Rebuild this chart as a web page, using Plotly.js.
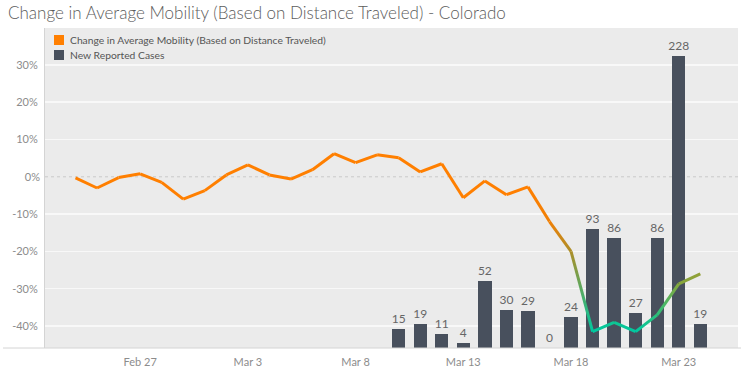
<!DOCTYPE html>
<html>
<head>
<meta charset="utf-8">
<script src="https://cdn.plot.ly/plotly-3.0.1.min.js"></script>
<style>
  html, body { margin: 0; padding: 0; background: #ffffff; }
  #chart { width: 746px; height: 368px; }
</style>
</head>
<body>
<div id="chart"></div>
<script>
// ---------------- data ----------------
const mobilityDates = [
  '2020-02-24','2020-02-25','2020-02-26','2020-02-27','2020-02-28','2020-02-29',
  '2020-03-01','2020-03-02','2020-03-03','2020-03-04','2020-03-05','2020-03-06',
  '2020-03-07','2020-03-08','2020-03-09','2020-03-10','2020-03-11','2020-03-12',
  '2020-03-13','2020-03-14','2020-03-15','2020-03-16','2020-03-17','2020-03-18',
  '2020-03-19','2020-03-20','2020-03-21','2020-03-22','2020-03-23','2020-03-24'
];
const mobilityChange = [
  -0.3, -3.0, -0.2, 0.8, -1.5, -6.0,
  -3.7, 0.5, 3.2, 0.5, -0.6, 1.9,
  6.2, 3.8, 5.9, 5.1, 1.3, 3.5,
  -5.6, -1.1, -4.8, -2.7, -12.0, -20.0,
  -41.5, -39.0, -41.5, -37.0, -28.7, -26.0
];
const caseDates = [
  '2020-03-10','2020-03-11','2020-03-12','2020-03-13','2020-03-14','2020-03-15',
  '2020-03-16','2020-03-17','2020-03-18','2020-03-19','2020-03-20','2020-03-21',
  '2020-03-22','2020-03-23','2020-03-24'
];
const newCases = [15, 19, 11, 4, 52, 30, 29, 0, 24, 93, 86, 27, 86, 228, 19];

const pctTickVals = [-40, -30, -20, -10, 10, 20, 30];
const pctTickText = ['-40%', '-30%', '-20%', '-10%', '10%', '20%', '30%'];
const zeroTickVals = [0];
const zeroTickText = ['0%'];

const titleText = 'Change in Average Mobility (Based on Distance Traveled) - Colorado';
const legendNames = ['Change in Average Mobility (Based on Distance Traveled)', 'New Reported Cases'];

// ---------------- styling ----------------
const FONT = 'Lato, "Noto Sans", sans-serif';
const ORANGE = '#ff7f00';
const BAR = '#48505d';
const W = 746, H = 368;
const M = { l: 45, r: 8, t: 28, b: 20 };
const PW = W - M.l - M.r, PH = H - M.t - M.b;
const px = x => (x - M.l) / PW;
const py = y => (H - M.b - y) / PH;

// value -> colour (diverging orange -> olive -> teal)
const colorStops = [
  [-8, [255, 127, 0]],
  [-13, [236, 128, 8]],
  [-20, [172, 142, 40]],
  [-26, [146, 160, 56]],
  [-30, [128, 170, 62]],
  [-35, [72, 186, 96]],
  [-40, [0, 200, 160]]
];
function colorFor(v) {
  if (v >= colorStops[0][0]) return 'rgb(' + colorStops[0][1].join(',') + ')';
  for (let i = 1; i < colorStops.length; i++) {
    const [v1, c1] = colorStops[i];
    const [v0, c0] = colorStops[i - 1];
    if (v >= v1) {
      const t = (v0 - v) / (v0 - v1);
      const c = c0.map((a, k) => Math.round(a + (c1[k] - a) * t));
      return 'rgb(' + c.join(',') + ')';
    }
  }
  return 'rgb(' + colorStops[colorStops.length - 1][1].join(',') + ')';
}

// ---------------- traces ----------------
const traces = [];
traces.push({
  type: 'bar',
  x: caseDates,
  y: newCases,
  xaxis: 'x', yaxis: 'y',
  width: 0.62 * 86400000,
  marker: { color: BAR, line: { width: 0 } },
  text: newCases.map(String),
  textposition: 'outside',
  constraintext: 'none',
  cliponaxis: false,
  textfont: { family: FONT, size: 12, color: '#666666' },
  showlegend: false,
  name: legendNames[1]
});
for (let i = 0; i < mobilityDates.length - 1; i++) {
  const v0 = mobilityChange[i], v1 = mobilityChange[i + 1];
  traces.push({
    type: 'scatter',
    mode: 'lines',
    x: [mobilityDates[i], mobilityDates[i + 1]],
    y: [v0, v1],
    xaxis: 'x', yaxis: 'y2',
    line: { color: colorFor((v0 + v1) / 2), width: 3 },
    meta: i,
    showlegend: false,
    name: legendNames[0]
  });
}
// a hidden trace to bring yaxis3 into the plot
traces.push({
  type: 'scatter', mode: 'lines', x: [], y: [], xaxis: 'x', yaxis: 'y3',
  showlegend: false, hoverinfo: 'skip'
});

// ---------------- layout ----------------
const axisFont = { family: FONT, size: 11, color: '#8c8c8c' };
const layout = {
  width: W, height: H,
  margin: M,
  paper_bgcolor: '#ffffff',
  plot_bgcolor: '#ebebeb',
  font: { family: FONT, color: '#555555' },
  hovermode: false,
  showlegend: false,
  bargap: 0,
  title: {
    text: titleText,
    font: { family: FONT, size: 17, color: '#5c5c5c', weight: 300 },
    x: 8 / W, xref: 'container', xanchor: 'left',
    y: 1 - 13 / H, yref: 'container', yanchor: 'middle'
  },
  xaxis: {
    type: 'date',
    range: ['2020-02-22 14:00', '2020-03-25 18:00'],
    tick0: '2020-02-27',
    dtick: 5 * 86400000,
    tickformat: '%b %-d',
    tickfont: axisFont,
    ticks: '',
    ticklabelstandoff: 6,
    showgrid: false,
    zeroline: false,
    showline: false,
    fixedrange: true
  },
  yaxis: {
    range: [0, 250],
    showgrid: false,
    showticklabels: false,
    zeroline: false,
    showline: false,
    ticks: '',
    fixedrange: true
  },
  yaxis2: {
    overlaying: 'y',
    side: 'left',
    range: [-45.9, 39.9],
    tickvals: pctTickVals,
    ticktext: pctTickText,
    tickfont: axisFont,
    ticks: '',
    ticklabelstandoff: 4,
    showgrid: true,
    gridcolor: '#f8f8f8',
    gridwidth: 1.5,
    zeroline: false,
    showline: true,
    linecolor: '#d4d4d4',
    linewidth: 1,
    fixedrange: true
  },
  yaxis3: {
    overlaying: 'y',
    side: 'left',
    range: [-45.9, 39.9],
    tickvals: zeroTickVals,
    ticktext: zeroTickText,
    tickfont: axisFont,
    ticks: '',
    ticklabelstandoff: 4,
    showgrid: false,
    zeroline: false,
    showline: false,
    fixedrange: true
  },
  shapes: [
    // dotted zero reference line
    { type: 'line', xref: 'paper', x0: 0, x1: 1, yref: 'y2', y0: 0, y1: 0,
      line: { color: '#c9c9c9', width: 1, dash: 'dot' }, layer: 'below' },
    // bottom frame line
    { type: 'line', xref: 'paper', x0: px(3), x1: px(741), yref: 'paper', y0: 0, y1: 0,
      line: { color: '#d4d4d4', width: 1 } },
    // legend swatches
    { type: 'rect', xref: 'paper', yref: 'paper', x0: px(54), x1: px(64), y0: py(45), y1: py(35),
      fillcolor: ORANGE, line: { width: 0 } },
    { type: 'rect', xref: 'paper', yref: 'paper', x0: px(54), x1: px(64), y0: py(60), y1: py(50),
      fillcolor: BAR, line: { width: 0 } }
  ],
  annotations: [
    { xref: 'paper', yref: 'paper', x: px(68), y: py(40), xanchor: 'left', yanchor: 'middle',
      text: legendNames[0], showarrow: false, font: { family: FONT, size: 10.3, color: '#555555' } },
    { xref: 'paper', yref: 'paper', x: px(68), y: py(55), xanchor: 'left', yanchor: 'middle',
      text: legendNames[1], showarrow: false, font: { family: FONT, size: 10.3, color: '#555555' } }
  ]
};

Plotly.newPlot('chart', traces, layout, { displayModeBar: false, staticPlot: true }).then(gd => {
  // colour each segment with a gradient between the colours of its two end values
  try {
    const defs = gd.querySelector('svg.main-svg defs');
    const NS = 'http://www.w3.org/2000/svg';
    gd.querySelectorAll('g.trace.scatter').forEach(el => {
      const cd = el.__data__;
      if (!cd || !cd[0] || !cd[0].trace) return;
      const k = cd[0].trace.meta;
      if (typeof k !== 'number') return;
      const path = el.querySelector('path.js-line');
      if (!path) return;
      const nums = (path.getAttribute('d') || '').match(/-?\d+(\.\d+)?/g);
      if (!nums || nums.length < 4) return;
      const x1 = nums[0], y1 = nums[1];
      const x2 = nums[nums.length - 2], y2 = nums[nums.length - 1];
      const g = document.createElementNS(NS, 'linearGradient');
      g.setAttribute('id', 'seg' + k);
      g.setAttribute('gradientUnits', 'userSpaceOnUse');
      g.setAttribute('x1', x1); g.setAttribute('y1', y1);
      g.setAttribute('x2', x2); g.setAttribute('y2', y2);
      [[0, mobilityChange[k]], [1, mobilityChange[k + 1]]].forEach(([o, v]) => {
        const s = document.createElementNS(NS, 'stop');
        s.setAttribute('offset', o);
        s.setAttribute('stop-color', colorFor(v));
        g.appendChild(s);
      });
      defs.appendChild(g);
      path.style.stroke = 'url(#seg' + k + ')';
      path.style.strokeLinejoin = 'round';
    });
  } catch (e) { /* keep flat segment colours */ }
});
</script>
</body>
</html>
